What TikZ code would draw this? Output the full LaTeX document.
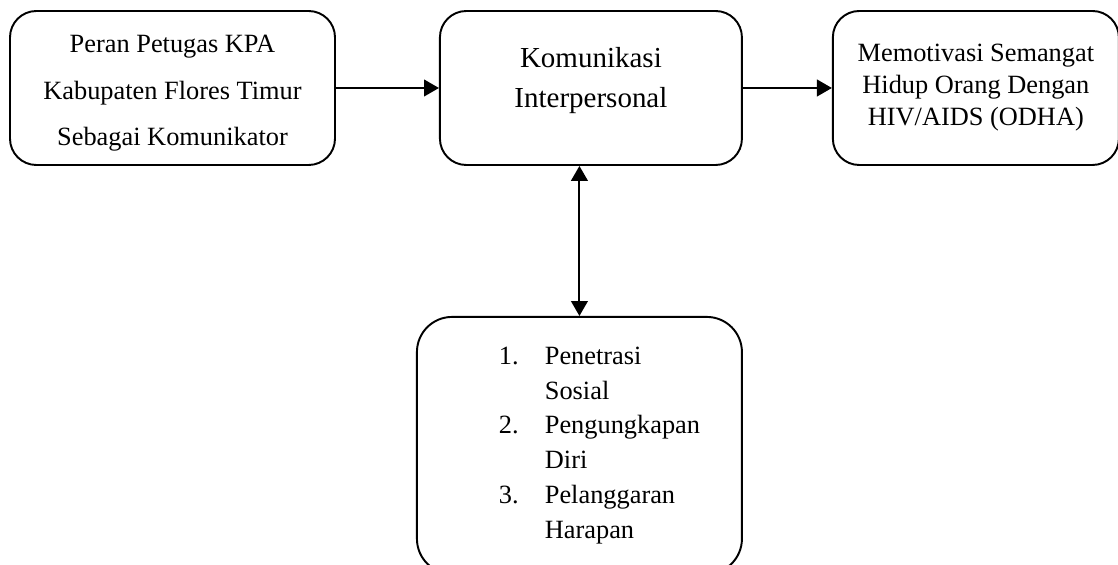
\documentclass[tikz,border=0pt]{standalone}
\usepackage{fontspec}
\setmainfont{Liberation Serif}
\usetikzlibrary{arrows.meta,positioning}
\definecolor{ink}{HTML}{000000}
\newcommand{\itemno}[1]{\hspace*{22.8pt}\makebox[26.2pt][l]{#1}}
\newcommand{\itemcont}{\hspace*{49pt}}
\tikzset{
  basebox/.style={draw=ink,line width=1.1pt,rounded corners=15pt,align=center,inner sep=0pt,minimum height=3.08cm,font=\fontsize{15pt}{18.2pt}\selectfont},
  arrow/.style={-{Triangle[length=8.5pt,width=9.5pt]},line width=1.1pt,draw=ink},
  biarrow/.style={{Triangle[length=8.5pt,width=9.5pt]}-{Triangle[length=8.5pt,width=9.5pt]},line width=1.1pt,draw=ink}
}

\begin{document}
\begin{tikzpicture}
  \useasboundingbox (0,0) rectangle (22.36,-11.3);
  \node[basebox,minimum width=6.5cm,font=\fontsize{15pt}{26.2pt}\selectfont] (peran) at (3.45,-1.76)
    {\rule{0pt}{15.8pt}Peran Petugas KPA\\Kabupaten Flores Timur\\Sebagai Komunikator};
  \node[basebox,minimum width=6.04cm,right=2.06cm of peran,font=\fontsize{16.5pt}{22.8pt}\selectfont] (komunikasi)
    {Komunikasi\\Interpersonal\rule[-12.4pt]{0pt}{0pt}};
  \node[basebox,minimum width=5.72cm,right=1.78cm of komunikasi] (motivasi)
    {Memotivasi Semangat\\Hidup Orang Dengan\\HIV/AIDS (ODHA)};
  \node[basebox,minimum width=6.5cm,minimum height=5.14cm,rounded corners=20pt,align=left,font=\fontsize{15pt}{19.8pt}\selectfont,below=3cm of komunikasi,xshift=-0.23cm] (teori)
    {\itemno{1.}Penetrasi\\\itemcont Sosial\\\itemno{2.}Pengungkapan\\\itemcont Diri\\\itemno{3.}Pelanggaran\\\itemcont Harapan};
  \draw[arrow] (peran) -- (komunikasi);
  \draw[arrow] (komunikasi) -- (motivasi);
  \draw[biarrow] (teori.north) -- (teori.north |- komunikasi.south);
\end{tikzpicture}
\end{document}
